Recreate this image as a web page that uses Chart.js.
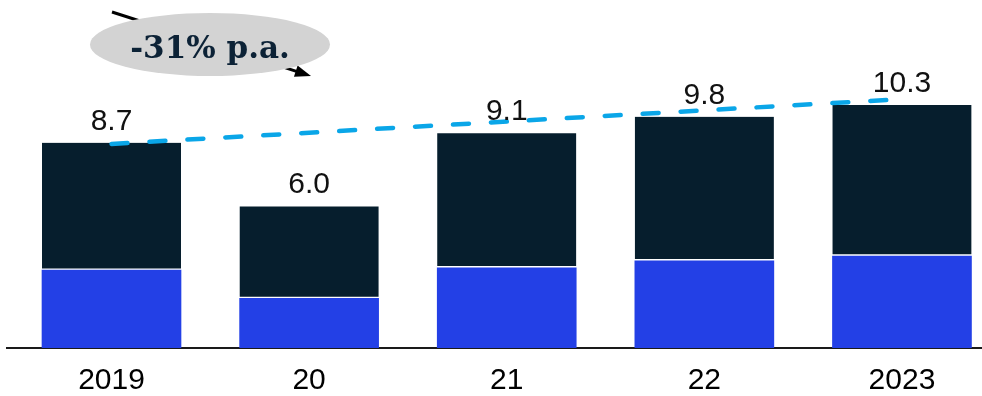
<!DOCTYPE html>
<html>
<head>
<meta charset="utf-8">
<script src="https://cdn.jsdelivr.net/npm/chart.js@4/dist/chart.umd.min.js"></script>
<style>
  html, body { margin: 0; padding: 0; background: #ffffff; }
  #wrap { width: 982px; height: 396px; position: relative; }
</style>
</head>
<body>
<div id="wrap"><canvas id="chart" width="982" height="396"></canvas></div>
<script>
// Categories and stacked values
const categories = ['2019', '20', '21', '22', '2023'];
const lowerValues = [3.3, 2.1, 3.4, 3.7, 3.9];
const upperValues = [5.4, 3.9, 5.7, 6.1, 6.4];
const totalLabels = ['8.7', '6.0', '9.1', '9.8', '10.3'];
// Trend line endpoints: [category position, value]
const trendPoints = [[0, 8.65], [3.94, 10.52]];
const growthLabel = '-31% p.a.';

const NAVY = '#061e2d';
const BLUE = '#2340e6';
const TREND = '#0aa6e8';

// Totals written above each stacked bar
const totalsPlugin = {
  id: 'totals',
  afterDatasetsDraw(chart) {
    const { ctx, scales } = chart;
    ctx.save();
    ctx.font = '30px "Liberation Sans", Arial, sans-serif';
    ctx.fillStyle = '#111111';
    ctx.textAlign = 'center';
    ctx.textBaseline = 'alphabetic';
    categories.forEach((c, i) => {
      const total = lowerValues[i] + upperValues[i];
      const x = scales.x.getPixelForValue(i);
      const y = scales.y.getPixelForValue(total);
      ctx.fillText(totalLabels[i], x, y - 13);
    });
    ctx.restore();
  }
};

// Growth callout: arrow behind a grey ellipse with the rate
const calloutPlugin = {
  id: 'callout',
  afterDraw(chart) {
    const { ctx } = chart;
    ctx.save();
    const x1 = 112, y1 = 12, x2 = 311, y2 = 76;
    const ang = Math.atan2(y2 - y1, x2 - x1);
    ctx.strokeStyle = '#000000';
    ctx.lineWidth = 3;
    ctx.beginPath();
    ctx.moveTo(x1, y1);
    ctx.lineTo(x2 - 12 * Math.cos(ang), y2 - 12 * Math.sin(ang));
    ctx.stroke();
    ctx.fillStyle = '#000000';
    ctx.beginPath();
    ctx.moveTo(x2, y2);
    ctx.lineTo(x2 - 16 * Math.cos(ang) + 6 * Math.sin(ang), y2 - 16 * Math.sin(ang) - 6 * Math.cos(ang));
    ctx.lineTo(x2 - 16 * Math.cos(ang) - 6 * Math.sin(ang), y2 - 16 * Math.sin(ang) + 6 * Math.cos(ang));
    ctx.closePath();
    ctx.fill();

    ctx.fillStyle = '#d3d3d3';
    ctx.beginPath();
    ctx.ellipse(210, 44.5, 120, 31.5, 0, 0, Math.PI * 2);
    ctx.fill();

    ctx.fillStyle = '#0c2236';
    ctx.font = 'bold 31px "DejaVu Serif", serif';
    ctx.textAlign = 'center';
    ctx.textBaseline = 'alphabetic';
    ctx.fillText(growthLabel, 210, 58);
    ctx.restore();
  }
};

new Chart(document.getElementById('chart'), {
  type: 'bar',
  data: {
    datasets: [
      {
        type: 'line',
        data: trendPoints.map(p => ({ x: p[0], y: p[1] })),
        borderColor: TREND,
        borderWidth: 4.5,
        borderDash: [16, 22],
        borderCapStyle: 'round',
        pointRadius: 0,
        fill: false,
        order: 0
      },
      {
        data: lowerValues.map((v, i) => ({ x: i, y: v })),
        backgroundColor: BLUE,
        borderWidth: 0,
        barThickness: 139,
        order: 1
      },
      {
        data: upperValues.map((v, i) => ({ x: i, y: v })),
        backgroundColor: NAVY,
        borderColor: '#ffffff',
        borderWidth: { top: 0, left: 0, right: 0, bottom: 2 },
        borderSkipped: false,
        barThickness: 139,
        order: 1
      }
    ]
  },
  options: {
    responsive: false,
    animation: false,
    layout: { padding: { left: 7, right: 0, top: 0, bottom: 0 } },
    plugins: { legend: { display: false }, tooltip: { enabled: false } },
    scales: {
      x: {
        type: 'linear',
        stacked: true,
        offset: false,
        min: -0.5288,
        max: 4.405,
        grid: { display: false, drawTicks: false },
        border: { display: true, color: '#1a1a1a', width: 2 },
        afterBuildTicks(axis) {
          axis.ticks = categories.map((c, i) => ({ value: i }));
        },
        afterFit(axis) {
          axis.height = 48;
        },
        ticks: {
          autoSkip: false,
          maxRotation: 0,
          padding: 15,
          color: '#000000',
          font: { family: '"Liberation Sans", Arial, sans-serif', size: 30 },
          callback: (v) => categories[v]
        }
      },
      y: {
        display: false,
        stacked: true,
        min: 0,
        max: 14.75
      }
    }
  },
  plugins: [totalsPlugin, calloutPlugin]
});
</script>
</body>
</html>
